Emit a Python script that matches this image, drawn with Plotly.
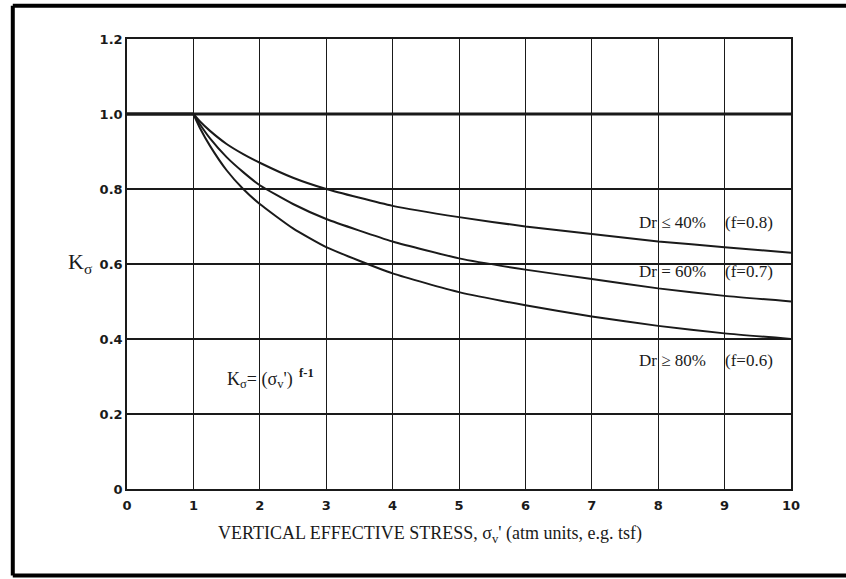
import plotly.graph_objects as go

# values
flat_x = [0, 1]
flat_k = [1.0, 1.0]
stress = [1, 1.1, 1.25, 1.5, 1.75, 2, 2.5, 3, 4, 5, 6, 7, 8, 9, 10]
k_f08 = [1.0, 0.98, 0.955, 0.92, 0.893, 0.87, 0.83, 0.80, 0.755, 0.725, 0.70, 0.68, 0.66, 0.645, 0.63]
k_f07 = [1.0, 0.972, 0.935, 0.885, 0.845, 0.81, 0.76, 0.72, 0.66, 0.615, 0.585, 0.56, 0.535, 0.515, 0.50]
k_f06 = [1.0, 0.962, 0.915, 0.85, 0.80, 0.76, 0.695, 0.645, 0.575, 0.525, 0.49, 0.46, 0.435, 0.415, 0.40]

x_ticks = list(range(0, 11))
y_ticks = [0, 0.2, 0.4, 0.6, 0.8, 1.0, 1.2]
y_tick_text = ["0", "0.2", "0.4", "0.6", "0.8", "1.0", "1.2"]

curve_labels = [
    ("Dr \u2264 40%", "(f=0.8)", 0.712),
    ("Dr = 60%", "(f=0.7)", 0.579),
    ("Dr \u2265 80%", "(f=0.6)", 0.344),
]

INK = "#1a1a1a"
SERIF = "Liberation Serif"
TICKFONT = dict(family="DejaVu Sans", size=13, color=INK)

fig = go.Figure()
fig.add_trace(go.Scatter(x=flat_x, y=flat_k, mode="lines", line=dict(color=INK, width=3),
                         showlegend=False, hoverinfo="skip"))
for ys in (k_f08, k_f07, k_f06):
    fig.add_trace(go.Scatter(x=stress, y=ys, mode="lines",
                             line=dict(color=INK, width=2, shape="spline", smoothing=0.5),
                             showlegend=False, hoverinfo="skip"))

fig.update_layout(
    width=846, height=579,
    margin=dict(l=127, r=55, t=39, b=90),
    paper_bgcolor="white", plot_bgcolor="white",
    xaxis=dict(range=[0, 10], tickvals=x_ticks, ticktext=[f"<b>{t}</b>" for t in x_ticks],
               showgrid=True, gridcolor=INK, gridwidth=1,
               showline=True, linecolor=INK, linewidth=1.5, mirror=True, zeroline=False,
               ticks="", tickfont=TICKFONT, ticklabelstandoff=4, fixedrange=True),
    yaxis=dict(range=[0, 1.2], tickvals=y_ticks, ticktext=[f"<b>{t}</b>" for t in y_tick_text],
               showgrid=True, gridcolor=INK, gridwidth=2, showline=True, linecolor=INK,
               linewidth=1.5, mirror=True, zeroline=False, ticks="", ticklabelstandoff=0,
               tickfont=TICKFONT, fixedrange=True),
)

# thick line along K=1.0
fig.add_hline(y=1.0, line=dict(color=INK, width=3), layer="below")

for dr, f, yv in curve_labels:
    fig.add_annotation(x=7.68, y=yv, text=dr, showarrow=False, xanchor="left",
                       font=dict(family=SERIF, size=17, color=INK))
    fig.add_annotation(x=8.98, y=yv, text=f, showarrow=False, xanchor="left",
                       font=dict(family=SERIF, size=17, color=INK))

fig.add_annotation(x=1.48, y=0.296, xanchor="left", showarrow=False,
                   text="K<sub>\u03c3</sub>= (\u03c3<sub>v</sub>')<sup><b>  f-1</b></sup>",
                   font=dict(family=SERIF, size=18, color=INK))
fig.add_annotation(xref="paper", x=-0.048, y=0.603, xanchor="right", showarrow=False,
                   text="K<sub>\u03c3</sub>", font=dict(family=SERIF, size=22, color=INK))
fig.add_annotation(x=4.56, yref="paper", y=-0.102, yanchor="middle", showarrow=False,
                   text="VERTICAL EFFECTIVE STRESS, \u03c3<sub>v</sub>' (atm units, e.g. tsf)",
                   font=dict(family=SERIF, size=18, color=INK))

# outer picture frame (top, left, bottom)
for x0, y0, x1, y1 in [(-0.172, 1.074, 1.1, 1.074), (-0.172, 1.074, -0.172, -0.192),
                       (-0.172, -0.192, 1.1, -0.192)]:
    fig.add_shape(type="line", xref="paper", yref="paper", x0=x0, y0=y0, x1=x1, y1=y1,
                  line=dict(color="black", width=4))

# drop the default page margin so the figure sits at the window's corner
fig.write_html("out.html", config={"displayModeBar": False},
               post_script="document.body.style.margin='0';")
